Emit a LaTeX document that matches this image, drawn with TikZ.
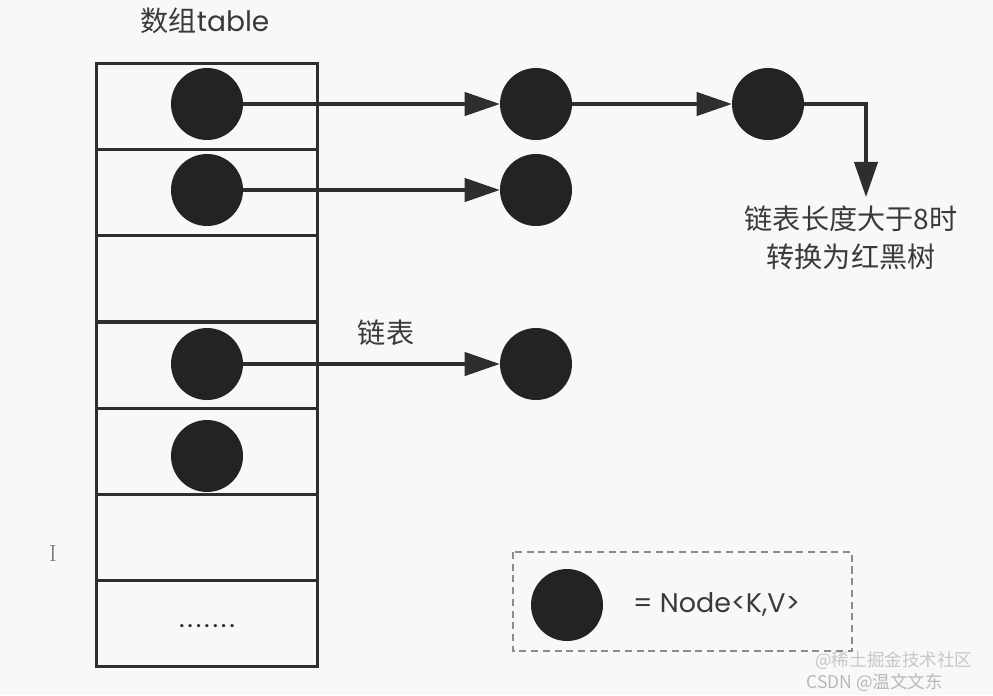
\documentclass[tikz,border=0pt]{standalone}
\usepackage{fontspec}
\setmainfont{Poppins}
\newfontfamily\cjk{Noto Sans CJK SC}
\usetikzlibrary{arrows.meta}
\definecolor{ink}{HTML}{2E2E2E}
\definecolor{dot}{HTML}{232323}
\definecolor{bg}{HTML}{F8F8F8}
\definecolor{txt}{HTML}{3A3A3A}
\tikzset{
  cellbox/.style={draw=ink, line width=2.6pt, minimum width=221*0.03cm, minimum height=86*0.03cm, inner sep=0pt, anchor=north west},
  nodedot/.style={circle, fill=dot, draw=none, minimum size=72*0.03cm, inner sep=0pt},
  link/.style={draw=ink, line width=2.6pt, -{Triangle[length=30pt,width=20pt]}},
  label/.style={text=txt, font=\cjk\fontsize{24}{32}\selectfont, inner sep=0pt},
  wm/.style={text=black!22, font=\cjk\fontsize{15}{18}\selectfont, inner sep=0pt}
}
\begin{document}
\begin{tikzpicture}[x=0.03cm, y=-0.03cm]
\useasboundingbox (0,0) rectangle (993,695);
\fill[bg] (0,0) rectangle (993,695);
% array cells
\node[cellbox] (r1) at (95,62) {};
\node[cellbox] (r2) at (95,148) {};
\node[cellbox] (r3) at (95,234) {};
\node[cellbox] (r4) at (95,321) {};
\node[cellbox] (r5) at (95,407) {};
\node[cellbox] (r6) at (95,493) {};
\node[cellbox] (r7) at (95,579) {};
\node[text=ink, font=\bfseries\fontsize{14}{14}\selectfont, inner sep=0pt] (dots) at (207,626) {.\kern3.2pt.\kern3.2pt.\kern3.2pt.\kern3.2pt.\kern3.2pt.\kern3.2pt.};
% title
\node[label] (title) at (205,21) {数组{\fontspec{Poppins}table}};
% array nodes
\node[nodedot] (a1) at (207,104) {};
\node[nodedot] (a2) at (207,190) {};
\node[nodedot] (a4) at (207,364) {};
\node[nodedot] (a5) at (207,456) {};
% chain nodes
\node[nodedot] (b1) at (536,104) {};
\node[nodedot] (c1) at (768,104) {};
\node[nodedot] (b2) at (536,190) {};
\node[nodedot] (b4) at (536,364) {};
% links
\draw[link] (a1.east) -- (b1.west);
\draw[link] (b1.east) -- (c1.west);
\draw[link] (a2.east) -- (b2.west);
\draw[link] (a4.east) -- (b4.west);
\coordinate (tip) at (866,197);
\draw[link] (c1.east) -| (tip);
% labels
\node[label] (chain) at (386,333) {链表};
\node[label, align=center] (tree) at (851,238) {链表长度大于8时\\转换为红黑树};
% legend
\draw[draw=black!45, line width=1.8pt, dash pattern=on 6pt off 4pt] (513,552) rectangle (852,651);
\node[nodedot] (lg) at (567,605) {};
\node[text=txt, font=\fontsize{23}{28}\selectfont, inner sep=0pt, anchor=west] (lgtext) at (633,604) {= Node<K,V>};
% cursor mark
\node[text=black!55, font=\fontspec{Latin Modern Roman}\fontsize{20}{20}\selectfont, inner sep=0pt] (cur) at (53,553) {I};
% watermarks
\node[wm, anchor=west] (wm1) at (815,661) {@稀土掘金技术社区};
\node[wm, anchor=west, text=black!28] (wm2) at (806,683) {CSDN @温文文东};
\end{tikzpicture}
\end{document}
